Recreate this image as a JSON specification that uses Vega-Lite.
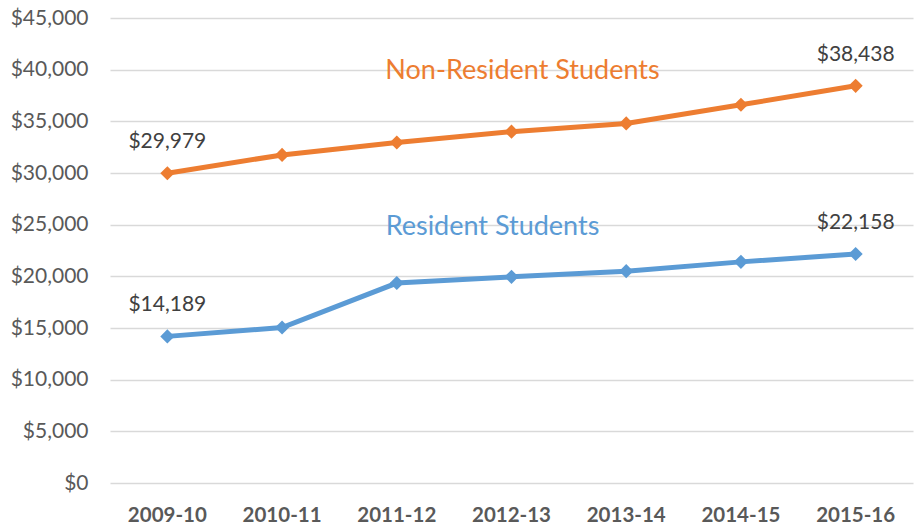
{
  "$schema": "https://vega.github.io/schema/vega-lite/v6.json",
  "autosize": "none",
  "width": 803,
  "height": 465,
  "padding": {"left": 110, "top": 18, "right": 1, "bottom": 44},
  "background": "white",
  "config": {
    "view": {"stroke": null},
    "font": "Lato"
  },
  "data": {
    "values": [
      {"year": "2009-10", "series": "Non-Resident", "value": 29979, "label": "$29,979"},
      {"year": "2010-11", "series": "Non-Resident", "value": 31750, "label": ""},
      {"year": "2011-12", "series": "Non-Resident", "value": 32950, "label": ""},
      {"year": "2012-13", "series": "Non-Resident", "value": 34000, "label": ""},
      {"year": "2013-14", "series": "Non-Resident", "value": 34800, "label": ""},
      {"year": "2014-15", "series": "Non-Resident", "value": 36600, "label": ""},
      {"year": "2015-16", "series": "Non-Resident", "value": 38438, "label": "$38,438"},
      {"year": "2009-10", "series": "Resident", "value": 14189, "label": "$14,189"},
      {"year": "2010-11", "series": "Resident", "value": 15050, "label": ""},
      {"year": "2011-12", "series": "Resident", "value": 19350, "label": ""},
      {"year": "2012-13", "series": "Resident", "value": 19950, "label": ""},
      {"year": "2013-14", "series": "Resident", "value": 20500, "label": ""},
      {"year": "2014-15", "series": "Resident", "value": 21400, "label": ""},
      {"year": "2015-16", "series": "Resident", "value": 22158, "label": "$22,158"}
    ]
  },
  "encoding": {
    "x": {
      "field": "year", "type": "ordinal", "title": null,
      "scale": {"type": "band", "paddingInner": 0, "paddingOuter": 0},
      "axis": {"labelAngle": 0, "ticks": false, "domain": false, "labelFontSize": 20.5, "labelFontWeight": "bold", "labelColor": "#595959", "labelPadding": 22, "labelFont": "Lato"}
    },
    "y": {
      "field": "value", "type": "quantitative", "title": null,
      "scale": {"domain": [0, 45000], "nice": false},
      "axis": {"values": [0,5000,10000,15000,20000,25000,30000,35000,40000,45000], "format": "$,.0f", "ticks": false, "domain": false, "gridColor": "#D9D9D9", "gridWidth": 1.3, "labelFontSize": 21, "labelColor": "#595959", "labelPadding": 22, "labelFont": "Lato"}
    },
    "color": {
      "field": "series", "type": "nominal", "legend": null,
      "scale": {"domain": ["Non-Resident", "Resident"], "range": ["#ED7D31", "#5B9BD5"]}
    }
  },
  "layer": [
    {"mark": {"type": "line", "strokeWidth": 5}},
    {"mark": {"type": "point", "shape": "diamond", "filled": true, "size": 200, "opacity": 1}},
    {"mark": {"type": "text", "dy": -31, "fontSize": 21, "color": "#404040", "baseline": "middle"}, "encoding": {"text": {"field": "label"}, "color": {"value": "#404040"}}},
    {
      "data": {"values": [
        {"year": "2012-13", "value": 39900, "text": "Non-Resident Students", "series": "Non-Resident"}
      ]},
      "mark": {"type": "text", "fontSize": 27, "baseline": "middle", "dx": 11},
      "encoding": {"text": {"field": "text"}}
    },
    {
      "data": {"values": [
        {"year": "2012-13", "value": 24750, "text": "Resident Students", "series": "Resident"}
      ]},
      "mark": {"type": "text", "fontSize": 27, "baseline": "middle", "dx": -19},
      "encoding": {"text": {"field": "text"}}
    }
  ]
}
